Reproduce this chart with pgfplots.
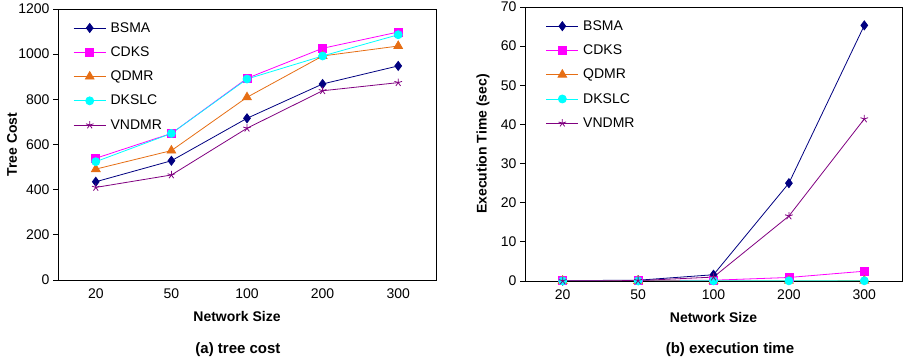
\documentclass[border=0pt]{standalone}
\usepackage{fontspec}
\setmainfont{Liberation Sans}
\usepackage{pgfplots}
\pgfplotsset{compat=1.18}
\definecolor{cBSMA}{RGB}{0,0,128}
\definecolor{cCDKS}{RGB}{255,0,255}
\definecolor{cQDMR}{RGB}{230,110,20}
\definecolor{cDKSLC}{RGB}{0,255,255}
\definecolor{cVNDMR}{RGB}{128,0,128}
\newcommand{\fs}{\fontsize{14bp}{16bp}\selectfont}
\pgfplotsset{
  myaxis/.style={
    scale only axis,
    anchor=south west,
    xmin=-0.5, xmax=4.5,
    xtick={0,...,4},
    xticklabels={20,50,100,200,300},
    x tick style={draw=none},
    minor xtick={-0.5,0.5,...,4.5},
    minor x tick style={black, line width=0.8bp},
    y tick style={black, line width=0.8bp},
    tick align=outside,
    major tick length=5bp,
    minor tick length=5bp,
    xtick pos=bottom, ytick pos=left,
    axis line style={line width=0.8bp},
    ymin=0,
    /pgf/number format/assume math mode=true,
    /pgf/number format/1000 sep={},
    tick label style={font=\fs},
    label style={font=\fs\bfseries},
    legend cell align=left,
    legend style={draw=none, fill=none, font=\fs, row sep=11bp,
      inner sep=0pt, anchor=north west,
      nodes={inner xsep=4.5bp, inner ysep=1bp}},
    legend image code/.code={
      \draw[mark repeat=2,mark phase=2,##1] plot coordinates {(0bp,0bp) (16bp,0bp) (32bp,0bp)};
    },
    every axis plot/.append style={line width=0.8bp},
  },
  sBSMA/.style={color=cBSMA, mark=diamond*, mark size=4.5bp, mark options={solid, fill=cBSMA}},
  sCDKS/.style={color=cCDKS, mark=square*, mark size=4bp, mark options={solid, fill=cCDKS}},
  sQDMR/.style={color=cQDMR, mark=triangle*, mark size=5bp, mark options={solid, fill=cQDMR}},
  sDKSLC/.style={color=cDKSLC, mark=*, mark size=4bp, mark options={solid, fill=cDKSLC}},
  sVNDMR/.style={color=cVNDMR, mark=star, mark size=4bp, mark options={solid}},
}
\begin{document}
\begin{tikzpicture}
\useasboundingbox (0,0) rectangle (907bp,364bp);
\begin{axis}[myaxis,
  at={(58bp,84bp)}, width=378bp, height=271bp,
  ymax=1200, ytick={0,200,...,1200},
  ylabel={Tree Cost},
  ylabel style={at={([xshift=-46bp]axis description cs:0,0.5)}, rotate=0, anchor=center},
  xlabel={Network Size},
  xlabel style={at={([xshift=-10bp,yshift=-36bp]axis description cs:0.5,0)}, anchor=center},
  legend style={at={(axis description cs:0.04,0.955)}},
]
\addplot[sBSMA] coordinates {(0,435) (1,528) (2,716) (3,868) (4,948)};
\addlegendentry{BSMA}
\addplot[sCDKS] coordinates {(0,539) (1,649) (2,893) (3,1026) (4,1098)};
\addlegendentry{CDKS}
\addplot[sQDMR] coordinates {(0,491) (1,573) (2,809) (3,992) (4,1036)};
\addlegendentry{QDMR}
\addplot[sDKSLC] coordinates {(0,524) (1,649) (2,890) (3,992) (4,1086)};
\addlegendentry{DKSLC}
\addplot[sVNDMR] coordinates {(0,410) (1,465) (2,672) (3,838) (4,874)};
\addlegendentry{VNDMR}
\end{axis}
\begin{axis}[myaxis,
  at={(525bp,83bp)}, width=377bp, height=274bp,
  ymax=70, ytick={0,10,...,70},
  ylabel={Execution Time (sec)},
  ylabel style={at={([xshift=-42bp]axis description cs:0,0.5)}, anchor=center},
  xlabel={Network Size},
  xlabel style={at={([yshift=-36bp]axis description cs:0.5,0)}, anchor=center},
  legend style={at={(axis description cs:0.055,0.955)}},
]
\addplot[sBSMA] coordinates {(0,0.1) (1,0.2) (2,1.6) (3,25.0) (4,65.3)};
\addlegendentry{BSMA}
\addplot[sCDKS] coordinates {(0,0.05) (1,0.1) (2,0.2) (3,0.9) (4,2.5)};
\addlegendentry{CDKS}
\addplot[sQDMR] coordinates {(0,0.02) (1,0.03) (2,0.05) (3,0.07) (4,0.1)};
\addlegendentry{QDMR}
\addplot[sDKSLC] coordinates {(0,0.01) (1,0.02) (2,0.03) (3,0.04) (4,0.05)};
\addlegendentry{DKSLC}
\addplot[sVNDMR] coordinates {(0,0.05) (1,0.1) (2,1.0) (3,16.6) (4,41.4)};
\addlegendentry{VNDMR}
\end{axis}
\node[font=\fontsize{15bp}{17bp}\selectfont\bfseries] at (238bp,14bp) {(a) tree cost};
\node[font=\fontsize{15bp}{17bp}\selectfont\bfseries] at (730bp,14bp) {(b) execution time};
\end{tikzpicture}
\end{document}
